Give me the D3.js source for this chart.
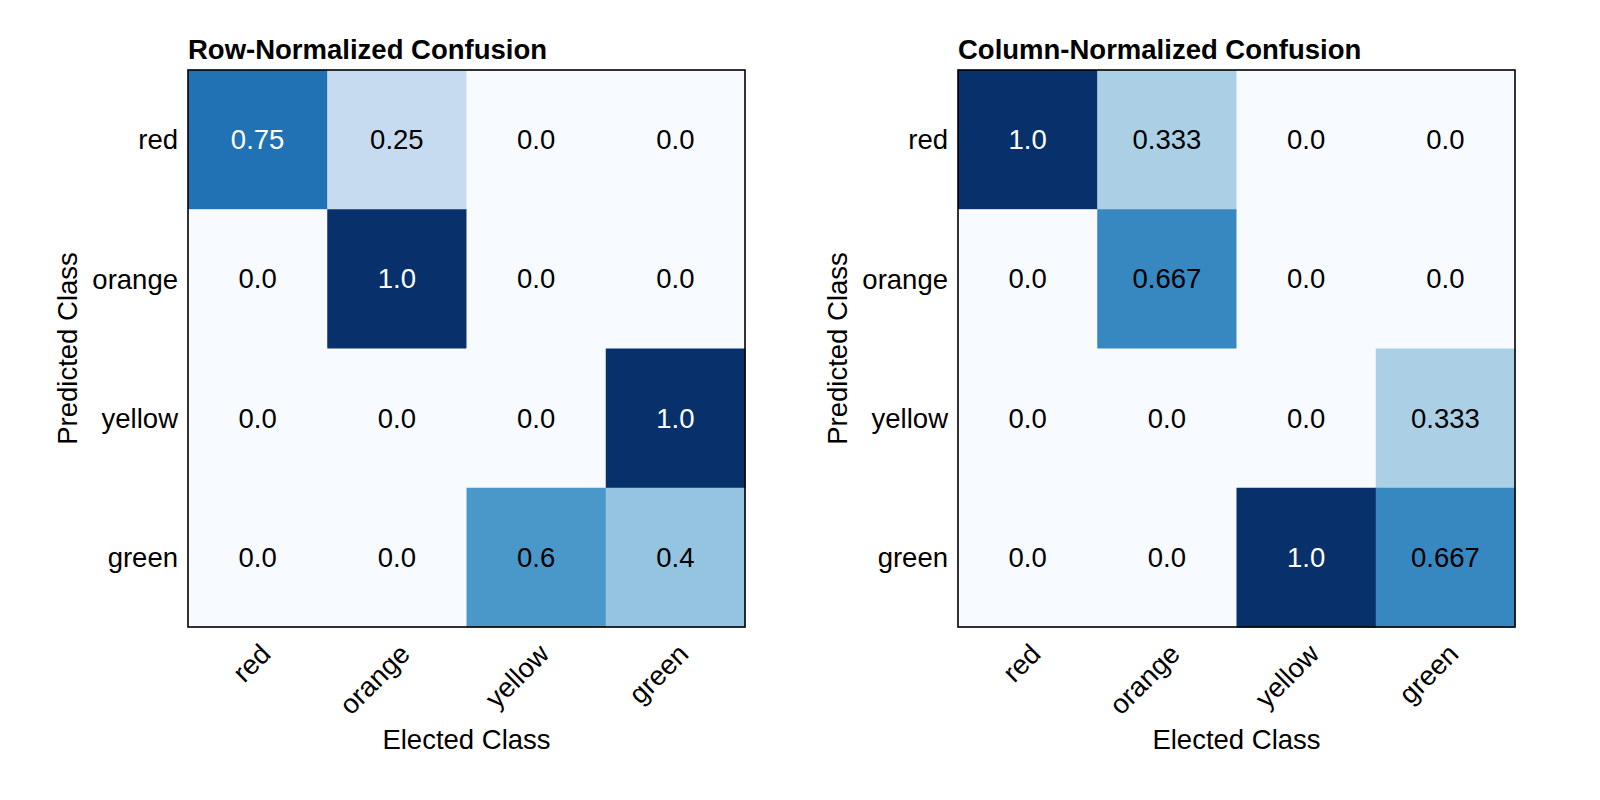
<!DOCTYPE html>
<html>
<head>
<meta charset="utf-8">
<script src="https://cdn.jsdelivr.net/npm/d3@7"></script>
<style>
  html, body { margin: 0; padding: 0; background: #fff; }
  svg text { font-family: "Liberation Sans", Arial, Helvetica, sans-serif; }
</style>
</head>
<body>
<svg id="chart" width="1600" height="800"></svg>
<script>
const categories = ["red", "orange", "yellow", "green"];
const rowNormalized = [
  [0.75, 0.25, 0.0, 0.0],
  [0.0, 1.0, 0.0, 0.0],
  [0.0, 0.0, 0.0, 1.0],
  [0.0, 0.0, 0.6, 0.4]
];
const colNormalized = [
  [1.0, 0.333, 0.0, 0.0],
  [0.0, 0.667, 0.0, 0.0],
  [0.0, 0.0, 0.0, 0.333],
  [0.0, 0.0, 1.0, 0.667]
];
const titles = ["Row-Normalized Confusion", "Column-Normalized Confusion"];
const xAxisLabel = "Elected Class";
const yAxisLabel = "Predicted Class";

const blues9 = ["#f7fbff","#deebf7","#c6dbef","#9ecae1","#6baed6","#4292c6","#2171b5","#08519c","#08306b"];
const color = d3.scaleLinear().domain(d3.range(9).map(i => i / 8)).range(blues9).interpolate(d3.interpolateRgb).clamp(true);

const svg = d3.select("#chart");
const panels = [
  { x0: 188, data: rowNormalized, title: titles[0] },
  { x0: 958, data: colNormalized, title: titles[1] }
];
const y0 = 70, size = 557;
const fs = 27.5;

function fmt(v) {
  return Number.isInteger(v) ? v.toFixed(1) : String(v);
}

panels.forEach(p => {
  const x = d3.scaleBand().domain(categories).range([p.x0, p.x0 + size]);
  const y = d3.scaleBand().domain(categories).range([y0, y0 + size]);
  const g = svg.append("g");

  const cells = [];
  p.data.forEach((row, i) => row.forEach((v, j) => cells.push({ r: categories[i], c: categories[j], v })));

  g.selectAll("rect.cell").data(cells).join("rect")
    .attr("class", "cell")
    .attr("x", d => x(d.c)).attr("y", d => y(d.r))
    .attr("width", x.bandwidth() + 0.5).attr("height", y.bandwidth() + 0.5)
    .attr("fill", d => color(d.v));

  g.selectAll("text.val").data(cells).join("text")
    .attr("class", "val")
    .attr("x", d => x(d.c) + x.bandwidth() / 2)
    .attr("y", d => y(d.r) + y.bandwidth() / 2)
    .attr("text-anchor", "middle").attr("dominant-baseline", "central")
    .attr("font-size", fs)
    .attr("fill", d => d.v > 0.7 ? "#ffffff" : "#000000")
    .text(d => fmt(d.v));

  // frame
  g.append("rect").attr("x", p.x0).attr("y", y0).attr("width", size).attr("height", size)
    .attr("fill", "none").attr("stroke", "#000").attr("stroke-width", 1.6);

  // y axis ticks
  const yAxis = d3.axisLeft(y).tickSize(0).tickPadding(10);
  const ya = g.append("g").attr("transform", `translate(${p.x0},0)`).call(yAxis);
  ya.select(".domain").remove();
  ya.selectAll("text").attr("font-size", fs).attr("fill", "#000")
    .attr("font-family", "Liberation Sans, Arial, sans-serif").attr("dy", "0.35em");

  // x axis ticks rotated
  g.selectAll("text.xt").data(categories).join("text")
    .attr("class", "xt")
    .attr("font-size", fs)
    .attr("text-anchor", "end").attr("dominant-baseline", "central")
    .attr("transform", d => `translate(${x(d) + x.bandwidth() / 2 + 8},${y0 + size + 22}) rotate(-45)`)
    .text(d => d);

  // title
  g.append("text").attr("x", p.x0).attr("y", y0 - 11)
    .attr("font-size", 27.5).attr("font-weight", "bold").text(p.title);

  // axis labels
  g.append("text").attr("x", p.x0 + size / 2).attr("y", 749)
    .attr("text-anchor", "middle").attr("font-size", fs).text(xAxisLabel);
  g.append("text")
    .attr("transform", `translate(${p.x0 - 111},${y0 + size / 2}) rotate(-90)`)
    .attr("text-anchor", "middle").attr("font-size", fs).text(yAxisLabel);
});
</script>
</body>
</html>
